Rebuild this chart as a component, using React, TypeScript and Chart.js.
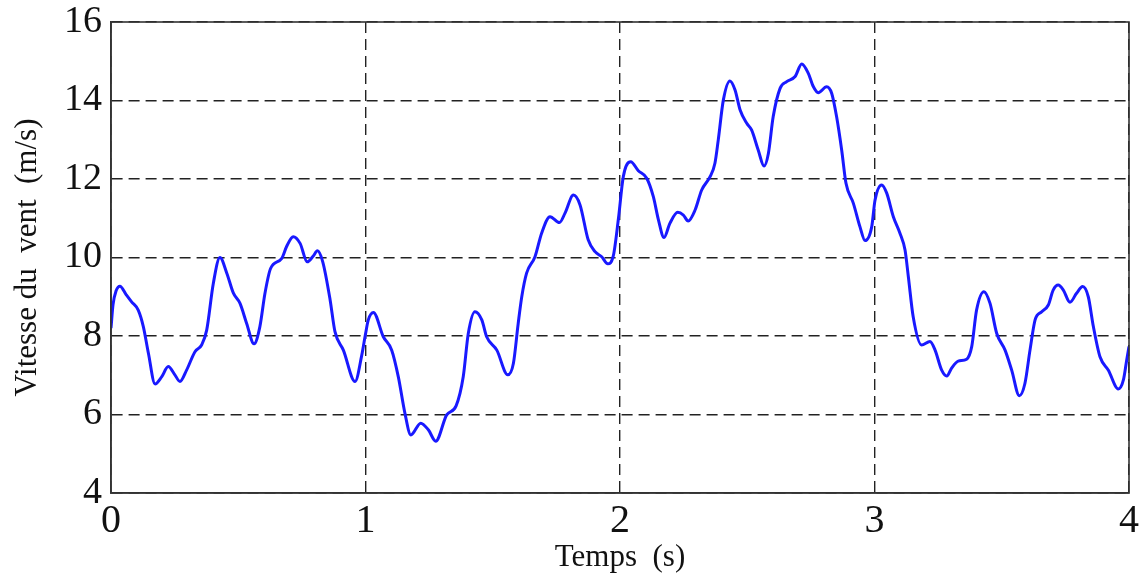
import React, { useEffect, useRef } from "react";
import { Chart, registerables } from "chart.js";

Chart.register(...registerables);

const time = [
  0.0, 0.008, 0.02, 0.035, 0.06, 0.081, 0.107, 0.127, 0.147, 0.173, 0.199, 0.225, 0.251, 0.271, 0.297, 0.33,
  0.356, 0.376, 0.402, 0.428, 0.455, 0.481, 0.507, 0.533, 0.562, 0.585, 0.605, 0.627, 0.671, 0.69, 0.716,
  0.743, 0.771, 0.795, 0.811, 0.832, 0.861, 0.88, 0.913, 0.959, 0.985, 1.0, 1.011, 1.031, 1.07, 1.103, 1.129,
  1.155, 1.178, 1.217, 1.247, 1.276, 1.319, 1.356, 1.384, 1.404, 1.43, 1.457, 1.476, 1.516, 1.559, 1.581,
  1.6, 1.614, 1.633, 1.666, 1.692, 1.725, 1.762, 1.784, 1.817, 1.843, 1.875, 1.902, 1.928, 1.952, 1.974,
  1.994, 2.013, 2.042, 2.072, 2.105, 2.131, 2.151, 2.173, 2.196, 2.227, 2.249, 2.268, 2.295, 2.321, 2.354,
  2.373, 2.386, 2.406, 2.432, 2.452, 2.472, 2.498, 2.517, 2.543, 2.566, 2.583, 2.602, 2.629, 2.655, 2.688,
  2.714, 2.74, 2.76, 2.779, 2.812, 2.832, 2.851, 2.871, 2.888, 2.917, 2.943, 2.963, 2.989, 3.002, 3.028,
  3.048, 3.074, 3.1, 3.12, 3.133, 3.152, 3.185, 3.218, 3.238, 3.264, 3.284, 3.303, 3.329, 3.362, 3.382,
  3.401, 3.43, 3.454, 3.48, 3.513, 3.539, 3.569, 3.591, 3.611, 3.631, 3.657, 3.683, 3.702, 3.722, 3.742,
  3.768, 3.794, 3.818, 3.84, 3.86, 3.886, 3.919, 3.958, 3.978, 3.991, 4.0,
];

const speed = [
  8.2, 8.8, 9.15, 9.27, 9.05, 8.87, 8.66, 8.24, 7.56, 6.78, 6.96, 7.22, 7.01, 6.84, 7.13, 7.6,
  7.77, 8.15, 9.34, 10.0, 9.6, 9.09, 8.83, 8.32, 7.8, 8.24, 9.09, 9.72, 9.98, 10.28, 10.53,
  10.36, 9.89, 10.04, 10.17, 9.89, 8.92, 8.11, 7.64, 6.84, 7.5, 8.05, 8.41, 8.6, 7.98, 7.64, 6.96,
  6.03, 5.48, 5.78, 5.61, 5.32, 5.99, 6.22, 6.96, 8.07, 8.62, 8.41, 7.98, 7.64, 7.01, 7.3,
  8.32, 9.0, 9.6, 10.02, 10.62, 11.04, 10.89, 11.13, 11.59, 11.34, 10.45, 10.15, 10.02, 9.84, 10.05,
  11.0, 12.06, 12.44, 12.21, 12.02, 11.55, 10.96, 10.51, 10.87, 11.15, 11.08, 10.93, 11.21, 11.72, 12.06,
  12.4, 12.99, 14.01, 14.5, 14.27, 13.76, 13.42, 13.25, 12.74, 12.33, 12.65, 13.59, 14.31, 14.48, 14.61,
  14.93, 14.69, 14.35, 14.2, 14.35, 14.18, 13.59, 12.74, 11.89, 11.38, 10.78, 10.43, 10.78, 11.46, 11.85,
  11.64, 11.04, 10.62, 10.19, 9.51, 8.49, 7.77, 7.86, 7.64, 7.13, 6.98, 7.18, 7.36, 7.41, 7.73,
  8.66, 9.13, 8.83, 8.07, 7.64, 7.13, 6.48, 6.79, 7.64, 8.41, 8.62, 8.79, 9.17, 9.3, 9.17,
  8.86, 9.09, 9.26, 9.0, 8.24, 7.47, 7.13, 6.65, 6.88, 7.39, 7.73,
];

const xTicks = [0, 1, 2, 3, 4];
const yTicks = [4, 6, 8, 10, 12, 14, 16];

const xTitle = "Temps  (s)";
const yTitle = "Vitesse du  vent  (m/s)";

const FONT = "'Liberation Serif', 'Times New Roman', serif";

const frameBox = {
  id: "frameBox",
  afterDatasetsDraw(chart: any) {
    const { ctx, chartArea } = chart;
    ctx.save();
    ctx.strokeStyle = "#333333";
    ctx.lineWidth = 1.6;
    ctx.setLineDash([]);
    ctx.strokeRect(chartArea.left, chartArea.top, chartArea.right - chartArea.left, chartArea.bottom - chartArea.top);
    ctx.restore();
  },
};

export default function App() {
  const ref = useRef<HTMLCanvasElement>(null);

  useEffect(() => {
    if (!ref.current) return;
    const points = time.map((t, i) => ({ x: t, y: speed[i] }));
    const chart = new Chart(ref.current, {
      type: "line",
      data: {
        datasets: [
          {
            data: points,
            borderColor: "rgb(25,25,255)",
            borderWidth: 3,
            pointRadius: 0,
            fill: false,
            cubicInterpolationMode: "monotone",
          },
        ],
      },
      options: {
        animation: false,
        responsive: false,
        maintainAspectRatio: false,
        layout: { padding: { left: 0, right: 14, top: 22, bottom: 0 } },
        plugins: { legend: { display: false }, tooltip: { enabled: false } },
        scales: {
          x: {
            type: "linear",
            min: 0,
            max: 4,
            afterBuildTicks: (scale: any) => {
              scale.ticks = xTicks.map((v) => ({ value: v }));
            },
            afterFit: (scale: any) => {
              scale.height = 86;
            },
            ticks: {
              font: { family: FONT, size: 40, lineHeight: 1.2 },
              color: "#111",
              padding: 4,
              maxRotation: 0,
              autoSkip: false,
            },
            grid: {
              color: "#222",
              lineWidth: 1.4,
              drawTicks: false,
            },
            border: { display: true, color: "#333", width: 1.6, dash: [11, 6] },
            title: {
              display: true,
              text: xTitle,
              font: { family: FONT, size: 31, lineHeight: 1.2 },
              color: "#111",
              padding: { top: 0, bottom: 3 },
            },
          },
          y: {
            type: "linear",
            min: 4,
            max: 16,
            afterBuildTicks: (scale: any) => {
              scale.ticks = yTicks.map((v) => ({ value: v }));
            },
            afterFit: (scale: any) => {
              scale.width = 111;
            },
            ticks: {
              font: { family: FONT, size: 38, lineHeight: 0.6 },
              color: "#111",
              padding: 9,
              autoSkip: false,
            },
            grid: {
              color: "#222",
              lineWidth: 1.4,
              drawTicks: false,
            },
            border: { display: true, color: "#333", width: 1.6, dash: [11, 6] },
            title: {
              display: true,
              text: yTitle,
              font: { family: FONT, size: 31, lineHeight: 1.2 },
              color: "#111",
              padding: { top: 9, bottom: 0 },
            },
          },
        },
      },
      plugins: [frameBox],
    });
    return () => chart.destroy();
  }, []);

  return (
    <div style={{ position: "fixed", left: 0, top: 0, width: 1143, height: 579, background: "#fff" }}>
      <canvas ref={ref} width={1143} height={579} style={{ display: "block" }} />
    </div>
  );
}
